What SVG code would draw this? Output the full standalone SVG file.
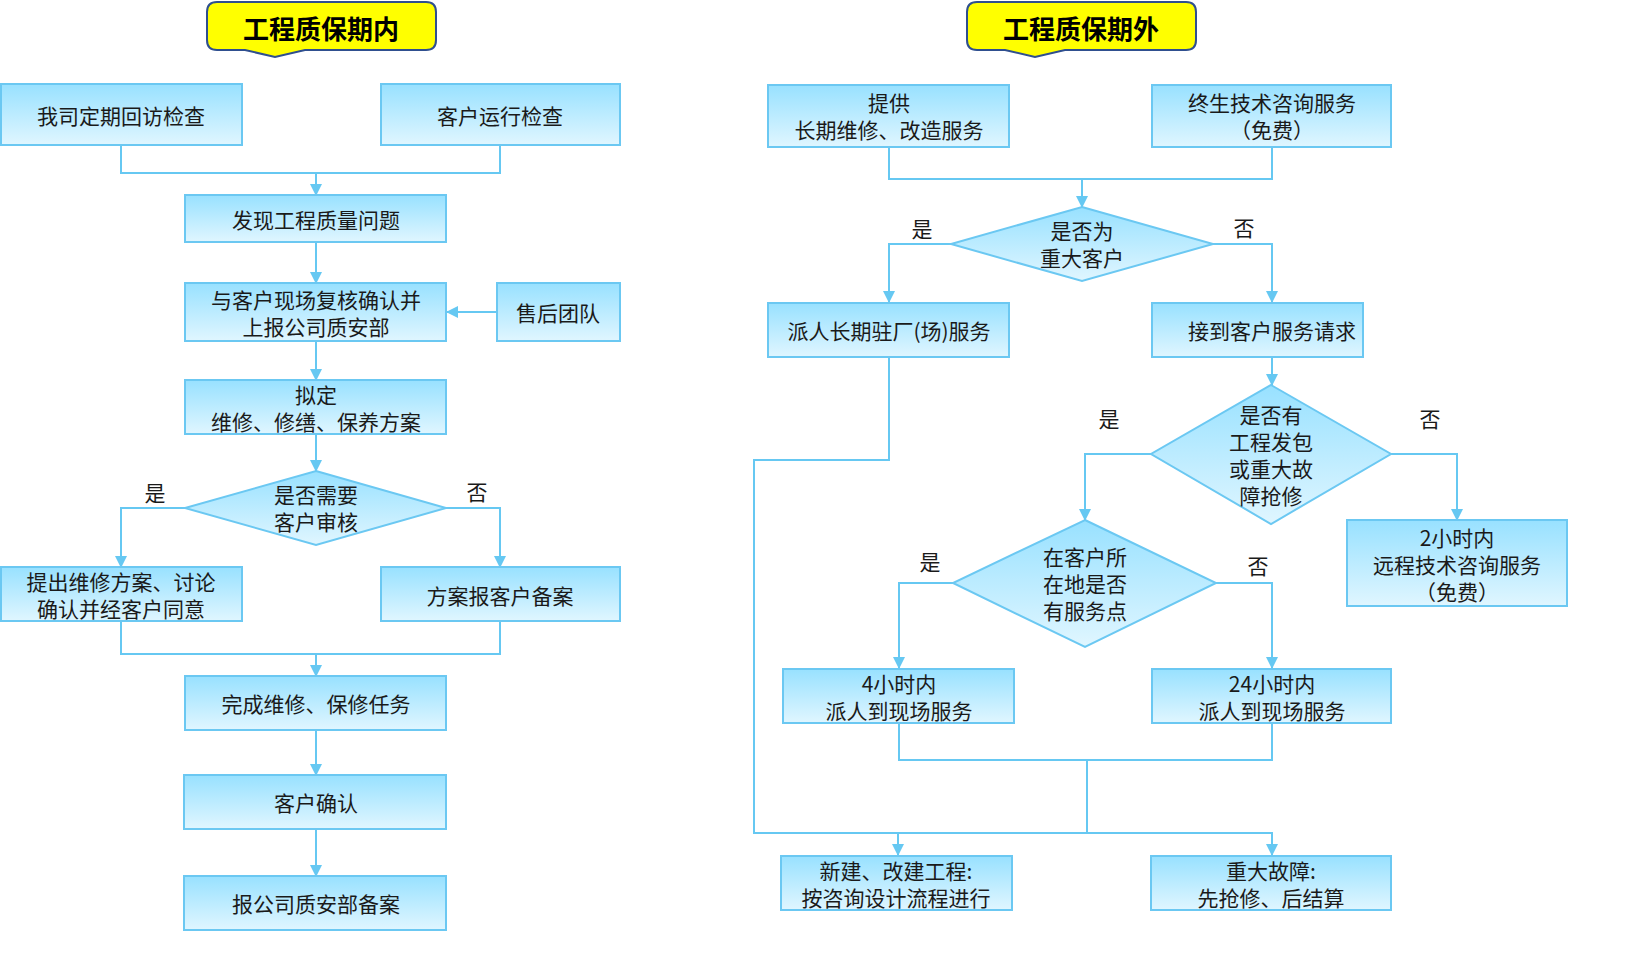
<svg xmlns="http://www.w3.org/2000/svg" width="1625" height="965" viewBox="0 0 1625 965">
<defs>
<linearGradient id="g" x1="0" y1="0" x2="0" y2="1">
<stop offset="0" stop-color="#98E1FF"/>
<stop offset="1" stop-color="#E0F6FF"/>
</linearGradient>
<marker id="a" markerWidth="12" markerHeight="12" refX="11" refY="6" orient="auto" markerUnits="userSpaceOnUse" viewBox="0 0 12 12">
<path d="M0,0 L12,6 L0,12 Z" fill="#66C8F2"/>
</marker>
</defs>
<style>
.b{fill:url(#g);stroke:#6BC8F2;stroke-width:2}
.t{font-family:"Noto Sans CJK SC","Noto Sans",sans-serif;font-size:21px;fill:#1a1a1a;text-anchor:middle;dominant-baseline:central}
.c{fill:none;stroke:#66C8F2;stroke-width:2}
.ban{fill:#FFFF00;stroke:#2F4F8F;stroke-width:2}
.bt{font-family:"Noto Sans CJK SC","Noto Sans",sans-serif;font-size:26px;font-weight:bold;fill:#000;text-anchor:middle;dominant-baseline:central}
</style>
<rect width="1625" height="965" fill="#fff"/>

<g id="banner-left">
<path class="ban" d="M217,2 H426 Q436,2 436,12 V40 Q436,50 426,50 H305 L275,57 L245,50 H217 Q207,50 207,40 V12 Q207,2 217,2 Z"/>
<text class="bt" x="321" y="27">工程质保期内</text>
</g>
<g id="banner-right">
<path class="ban" d="M977,2 H1186 Q1196,2 1196,12 V40 Q1196,50 1186,50 H1065 L1035,57 L1005,50 H977 Q967,50 967,40 V12 Q967,2 977,2 Z"/>
<text class="bt" x="1081" y="27">工程质保期外</text>
</g>

<g id="connectors">
<path class="c" d="M121,145 V173 H500 V145"/>
<path class="c" d="M316,173 V195" marker-end="url(#a)"/>
<path class="c" d="M316,242 V283" marker-end="url(#a)"/>
<path class="c" d="M497,312 H447" marker-end="url(#a)"/>
<path class="c" d="M316,341 V380" marker-end="url(#a)"/>
<path class="c" d="M316,434 V471" marker-end="url(#a)"/>
<path class="c" d="M185,508 H121 V567" marker-end="url(#a)"/>
<path class="c" d="M446,508 H500 V567" marker-end="url(#a)"/>
<path class="c" d="M121,621 V654 H500 V621"/>
<path class="c" d="M316,654 V676" marker-end="url(#a)"/>
<path class="c" d="M316,730 V775" marker-end="url(#a)"/>
<path class="c" d="M316,829 V876" marker-end="url(#a)"/>

<path class="c" d="M889,147 V179 H1272 V147"/>
<path class="c" d="M1082,179 V207" marker-end="url(#a)"/>
<path class="c" d="M951,244 H889 V302" marker-end="url(#a)"/>
<path class="c" d="M1213,244 H1272 V302" marker-end="url(#a)"/>
<path class="c" d="M1272,357 V385" marker-end="url(#a)"/>
<path class="c" d="M1151,454 H1085 V520" marker-end="url(#a)"/>
<path class="c" d="M1391,454 H1457 V520" marker-end="url(#a)"/>
<path class="c" d="M953,583 H899 V668" marker-end="url(#a)"/>
<path class="c" d="M1216,583 H1272 V668" marker-end="url(#a)"/>
<path class="c" d="M899,723 V760 H1272 V723"/>
<path class="c" d="M1087,760 V832"/>
<path class="c" d="M889,357 V460 H754 V833 H1272 V855" marker-end="url(#a)"/>
<path class="c" d="M898,833 V855" marker-end="url(#a)"/>
</g>

<g id="n1"><rect class="b" x="1" y="84" width="241" height="61"/><text class="t" x="121" y="115">我司定期回访检查</text></g>
<g id="n2"><rect class="b" x="381" y="84" width="239" height="61"/><text class="t" x="500" y="115">客户运行检查</text></g>
<g id="n3"><rect class="b" x="185" y="195" width="261" height="47"/><text class="t" x="316" y="219">发现工程质量问题</text></g>
<g id="n4"><rect class="b" x="185" y="283" width="261" height="58"/><text class="t" x="316" y="299">与客户现场复核确认并</text><text class="t" x="316" y="326">上报公司质安部</text></g>
<g id="n5"><rect class="b" x="497" y="283" width="123" height="58"/><text class="t" x="558" y="312">售后团队</text></g>
<g id="n6"><rect class="b" x="185" y="380" width="261" height="54"/><text class="t" x="316" y="394">拟定</text><text class="t" x="316" y="421">维修、修缮、保养方案</text></g>
<g id="d1"><path class="b" d="M316,471 L446,508 L316,545 L185,508 Z"/><text class="t" x="316" y="494">是否需要</text><text class="t" x="316" y="521">客户审核</text></g>
<g id="l1"><text class="t" x="155" y="492">是</text><text class="t" x="477" y="491">否</text></g>
<g id="n7"><rect class="b" x="1" y="567" width="241" height="54"/><text class="t" x="121" y="581">提出维修方案、讨论</text><text class="t" x="121" y="608">确认并经客户同意</text></g>
<g id="n8"><rect class="b" x="381" y="567" width="239" height="54"/><text class="t" x="500" y="595">方案报客户备案</text></g>
<g id="n9"><rect class="b" x="185" y="676" width="261" height="54"/><text class="t" x="316" y="703">完成维修、保修任务</text></g>
<g id="n10"><rect class="b" x="184" y="775" width="262" height="54"/><text class="t" x="316" y="802">客户确认</text></g>
<g id="n11"><rect class="b" x="184" y="876" width="262" height="54"/><text class="t" x="316" y="903">报公司质安部备案</text></g>

<g id="r1"><rect class="b" x="768" y="85" width="241" height="62"/><text class="t" x="889" y="102">提供</text><text class="t" x="889" y="129">长期维修、改造服务</text></g>
<g id="r2"><rect class="b" x="1152" y="85" width="239" height="62"/><text class="t" x="1272" y="102">终生技术咨询服务</text><text class="t" x="1272" y="129">（免费）</text></g>
<g id="rd1"><path class="b" d="M1082,207 L1213,244 L1082,281 L951,244 Z"/><text class="t" x="1082" y="230">是否为</text><text class="t" x="1082" y="257">重大客户</text></g>
<g id="rl1"><text class="t" x="922" y="228">是</text><text class="t" x="1244" y="227">否</text></g>
<g id="r3"><rect class="b" x="768" y="303" width="241" height="54"/><text class="t" x="889" y="330">派人长期驻厂(场)服务</text></g>
<g id="r4"><rect class="b" x="1152" y="303" width="211" height="54"/><text class="t" x="1272" y="330">接到客户服务请求</text></g>
<g id="rd2"><path class="b" d="M1271,385 L1391,454 L1271,524 L1151,454 Z"/><text class="t" x="1271" y="414">是否有</text><text class="t" x="1271" y="441">工程发包</text><text class="t" x="1271" y="468">或重大故</text><text class="t" x="1271" y="495">障抢修</text></g>
<g id="rl2"><text class="t" x="1109" y="418">是</text><text class="t" x="1430" y="418">否</text></g>
<g id="r5"><rect class="b" x="1347" y="520" width="220" height="86"/><text class="t" x="1457" y="537">2小时内</text><text class="t" x="1457" y="564">远程技术咨询服务</text><text class="t" x="1457" y="591">（免费）</text></g>
<g id="rd3"><path class="b" d="M1085,520 L1216,583 L1085,647 L953,583 Z"/><text class="t" x="1085" y="556">在客户所</text><text class="t" x="1085" y="583">在地是否</text><text class="t" x="1085" y="610">有服务点</text></g>
<g id="rl3"><text class="t" x="930" y="561">是</text><text class="t" x="1258" y="565">否</text></g>
<g id="r6"><rect class="b" x="783" y="669" width="231" height="54"/><text class="t" x="899" y="683">4小时内</text><text class="t" x="899" y="710">派人到现场服务</text></g>
<g id="r7"><rect class="b" x="1152" y="669" width="239" height="54"/><text class="t" x="1272" y="683">24小时内</text><text class="t" x="1272" y="710">派人到现场服务</text></g>
<g id="r8"><rect class="b" x="781" y="856" width="231" height="54"/><text class="t" x="896" y="870">新建、改建工程:</text><text class="t" x="896" y="897">按咨询设计流程进行</text></g>
<g id="r9"><rect class="b" x="1151" y="856" width="240" height="54"/><text class="t" x="1271" y="870">重大故障:</text><text class="t" x="1271" y="897">先抢修、后结算</text></g>
</svg>
